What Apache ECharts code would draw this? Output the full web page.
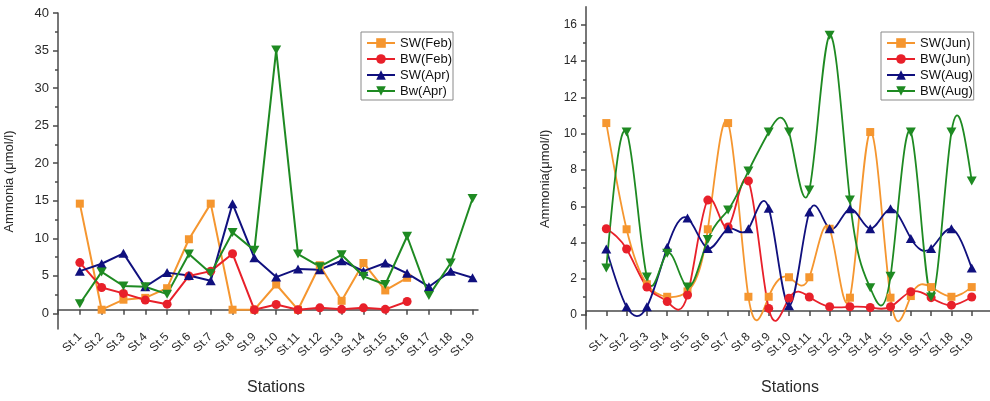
<!DOCTYPE html>
<html>
<head>
<meta charset="utf-8">
<script src="https://cdn.jsdelivr.net/npm/echarts@6/dist/echarts.min.js"></script>
<style>
  html, body { margin: 0; padding: 0; background: #fff; }
  #chart { width: 990px; height: 401px; }
</style>
</head>
<body>
<div id="chart"></div>
<script>
// Sampling stations along the transect
const stations = ['St.1', 'St.2', 'St.3', 'St.4', 'St.5', 'St.6', 'St.7', 'St.8', 'St.9', 'St.10',
  'St.11', 'St.12', 'St.13', 'St.14', 'St.15', 'St.16', 'St.17', 'St.18', 'St.19'];

// Ammonia (µmol/l), February and April (surface / bottom water)
const swFeb = [14.3, 0, 1.35, 1.6, 2.9, 9.5, 14.3, 0, 0, 3.4, 0, 6.0, 1.2, 6.3, 2.6, 4.3];
const bwFeb = [6.35, 3.0, 2.2, 1.3, 0.75, 4.55, 5.2, 7.55, 0, 0.7, 0, 0.25, 0.05, 0.25, 0.05, 1.1];
const swApr = [5.2, 6.2, 7.6, 3.1, 5.0, 4.6, 3.9, 14.3, 7.0, 4.4, 5.5, 5.4, 6.6, 5.2, 6.3, 4.9, 3.1, 5.2, 4.3];
const bwApr = [0.8, 5.1, 3.2, 3.1, 2.1, 7.5, 4.9, 10.4, 8.0, 35.0, 7.5, 5.8, 7.4, 4.5, 3.4, 9.9, 1.9, 6.3, 15.0];

// Ammonia (µmol/l), June and August (surface / bottom water)
const swJun = [10.5, 4.57, 1.5, 0.8, 1.1, 4.57, 10.5, 0.8, 0.8, 1.89, 1.89, 4.6, 0.75, 10.0, 0.75, 0.84, 1.34, 0.8, 1.34];
const bwJun = [4.6, 3.47, 1.34, 0.53, 0.9, 6.2, 4.7, 7.27, 0.15, 0.72, 0.79, 0.24, 0.24, 0.2, 0.24, 1.08, 0.75, 0.33, 0.79];
const swAug = [3.47, 0.24, 0.24, 3.56, 5.2, 3.5, 4.6, 4.6, 5.75, 0.3, 5.53, 4.6, 5.71, 4.6, 5.71, 4.06, 3.5, 4.6, 2.4];
const bwAug = [2.4, 10.0, 1.9, 3.23, 1.34, 4.0, 5.65, 7.82, 10.0, 10.0, 6.76, 15.4, 6.2, 1.3, 1.94, 10.0, 0.79, 10.0, 7.27];

// Legend names
const leftNames = ['SW(Feb)', 'BW(Feb)', 'SW(Apr)', 'Bw(Apr)'];
const rightNames = ['SW(Jun)', 'BW(Jun)', 'SW(Aug)', 'BW(Aug)'];

// Axis ranges and tick labels
const leftY = { min: -2.6, max: 40, tickMax: 40, step: 5 };
const rightY = { min: -1, max: 17, tickMax: 16, step: 2 };
const stationNo = stations.map((s, i) => i + 1);
const xTickValues = [0].concat(stationNo);

const COLORS = ['#F5962F', '#E8202A', '#10107E', '#1E8A22'];
const SYMBOLS = [
  { symbol: 'rect', size: 8, rotate: 0 },
  { symbol: 'circle', size: 9, rotate: 0 },
  { symbol: 'triangle', size: [10, 9], rotate: 0 },
  { symbol: 'triangle', size: [10, 9], rotate: 180 }
];
const FONT = 'Liberation Sans, Arial, sans-serif';
const AXIS_COLOR = '#4a4a4a';
const TEXT_COLOR = '#2a2a2a';

// Plot boxes (pixels)
const L = { left: 58, top: 13, width: 420, height: 320 };
const R = { left: 586, top: 6.7, width: 404, height: 326.6 };

function overlayBox(box, yr) {
  // Box for the tick/label axis that spans 0 .. tickMax inside the main box
  const pxPerUnit = box.height / (yr.max - yr.min);
  return {
    left: box.left,
    width: box.width,
    top: box.top + (yr.max - yr.tickMax) * pxPerUnit,
    height: yr.tickMax * pxPerUnit
  };
}

// Natural cubic spline second derivatives, unit spacing
function splineM(ys) {
  const n = ys.length;
  const M = new Array(n).fill(0);
  const m = n - 2;
  if (m <= 0) return M;
  const cp = new Array(m), dp = new Array(m);
  for (let k = 0; k < m; k++) {
    const i = k + 1;
    const rhs = 6 * (ys[i + 1] - 2 * ys[i] + ys[i - 1]);
    if (k === 0) { cp[k] = 1 / 4; dp[k] = rhs / 4; }
    else {
      const den = 4 - cp[k - 1];
      cp[k] = 1 / den;
      dp[k] = (rhs - dp[k - 1]) / den;
    }
  }
  M[m] = dp[m - 1];
  for (let k = m - 2; k >= 0; k--) M[k + 1] = dp[k] - cp[k] * M[k + 2];
  return M;
}

function splineRenderer(values, color, width) {
  const M = splineM(values);
  return function (params, api) {
    const i = params.dataIndex;
    if (i >= values.length - 1) return null;
    const x0 = i + 1, x1 = i + 2, y0 = values[i], y1 = values[i + 1];
    const d = y1 - y0;
    const s0 = d - (2 * M[i] + M[i + 1]) / 6;
    const s1 = d + (M[i] + 2 * M[i + 1]) / 6;
    const p0 = api.coord([x0, y0]);
    const p1 = api.coord([x1, y1]);
    const c0 = api.coord([x0 + 1 / 3, y0 + s0 / 3]);
    const c1 = api.coord([x1 - 1 / 3, y1 - s1 / 3]);
    return {
      type: 'bezierCurve',
      shape: { x1: p0[0], y1: p0[1], x2: p1[0], y2: p1[1], cpx1: c0[0], cpy1: c0[1], cpx2: c1[0], cpy2: c1[1] },
      style: { stroke: color, lineWidth: width, fill: null }
    };
  };
}

const toPairs = arr => arr.map((v, i) => [i + 1, v]);

function mainXAxis(gridIndex, max, namePad) {
  return {
    type: 'value', gridIndex, min: 0, max,
    name: 'Stations', nameLocation: 'middle', nameGap: 51,
    nameTextStyle: { fontFamily: FONT, fontSize: 16, color: TEXT_COLOR, padding: namePad },
    axisLine: { show: true, lineStyle: { color: AXIS_COLOR, width: 1.5 } },
    axisTick: { show: true, length: 5, customValues: xTickValues, lineStyle: { color: AXIS_COLOR, width: 1.5 } },
    axisLabel: {
      show: true, customValues: stationNo, rotate: 45, margin: 6,
      fontFamily: FONT, fontSize: 12, color: TEXT_COLOR,
      formatter: v => stations[v - 1]
    },
    splitLine: { show: false }
  };
}

function mainYAxis(gridIndex, yr, name, gap, pad) {
  return {
    type: 'value', gridIndex, min: yr.min, max: yr.max,
    name, nameLocation: 'middle', nameGap: gap,
    nameTextStyle: { fontFamily: FONT, fontSize: 13, color: TEXT_COLOR, padding: pad },
    axisLine: { show: true, lineStyle: { color: AXIS_COLOR, width: 1.5 } },
    axisTick: { show: false }, axisLabel: { show: false }, splitLine: { show: false }
  };
}

function tickYAxis(gridIndex, yr, fontSize) {
  return {
    type: 'value', gridIndex, min: 0, max: yr.tickMax, interval: yr.step,
    axisLine: { show: false },
    axisTick: { show: true, length: 5, lineStyle: { color: AXIS_COLOR, width: 1.5 } },
    minorTick: { show: true, splitNumber: 2, length: 3, lineStyle: { color: AXIS_COLOR, width: 1.5 } },
    axisLabel: { show: true, margin: 9, fontFamily: FONT, fontSize, color: TEXT_COLOR },
    splitLine: { show: false }, minorSplitLine: { show: false }
  };
}

function hiddenX(gridIndex) {
  return { type: 'value', gridIndex, min: 0, max: 1, show: false };
}

function legendCfg(names, left, top) {
  return {
    orient: 'vertical', left, top,
    data: names.map((n, k) => ({ name: n, lineStyle: { opacity: 1, width: 2, color: COLORS[k] } })),
    backgroundColor: '#fff',
    borderColor: '#8a8a8a', borderWidth: 1, borderRadius: 0,
    padding: [4, 1, 2, 5],
    itemWidth: 28, itemHeight: 12, itemGap: 2,
    textStyle: { fontFamily: FONT, fontSize: 13, color: '#111', lineHeight: 14 }
  };
}

const leftSeriesData = [swFeb, bwFeb, swApr, bwApr];
const rightSeriesData = [swJun, bwJun, swAug, bwAug];

const series = [];
leftSeriesData.forEach((vals, k) => {
  series.push({
    type: 'line', name: leftNames[k], xAxisIndex: 0, yAxisIndex: 0,
    data: toPairs(vals), clip: false,
    symbol: SYMBOLS[k].symbol, symbolSize: SYMBOLS[k].size, symbolRotate: SYMBOLS[k].rotate,
    showAllSymbol: true,
    lineStyle: { color: COLORS[k], width: 2 },
    itemStyle: { color: COLORS[k] }
  });
});
rightSeriesData.forEach((vals, k) => {
  series.push({
    type: 'custom', xAxisIndex: 1, yAxisIndex: 1, silent: true,
    data: toPairs(vals),
    renderItem: splineRenderer(vals, COLORS[k], 1.8)
  });
  series.push({
    type: 'line', name: rightNames[k], xAxisIndex: 1, yAxisIndex: 1,
    data: toPairs(vals), clip: false,
    symbol: SYMBOLS[k].symbol, symbolSize: SYMBOLS[k].size, symbolRotate: SYMBOLS[k].rotate,
    showAllSymbol: true,
    lineStyle: { color: COLORS[k], width: 2, opacity: 0 },
    itemStyle: { color: COLORS[k] }
  });
});

const chart = echarts.init(document.getElementById('chart'), null, { renderer: 'canvas' });
chart.setOption({
  animation: false,
  backgroundColor: '#fff',
  textStyle: { fontFamily: FONT },
  grid: [
    Object.assign({}, L),
    Object.assign({}, R),
    overlayBox(L, leftY),
    overlayBox(R, rightY)
  ],
  xAxis: [
    mainXAxis(0, 19.25, [0, 0, 0, 16]),
    mainXAxis(1, 19.9, [0, 0, 0, 4]),
    hiddenX(2),
    hiddenX(3)
  ],
  yAxis: [
    mainYAxis(0, leftY, 'Ammonia (\u03bcmol/l)', 42, [0, 21, 0, 0]),
    mainYAxis(1, rightY, 'Ammonia(\u03bcmol/l)', 34, [0, 22, 0, 0]),
    tickYAxis(2, leftY, 13),
    tickYAxis(3, rightY, 12)
  ],
  legend: [
    legendCfg(leftNames, 361, 32),
    legendCfg(rightNames, 881, 32)
  ],
  series
});
</script>
</body>
</html>
